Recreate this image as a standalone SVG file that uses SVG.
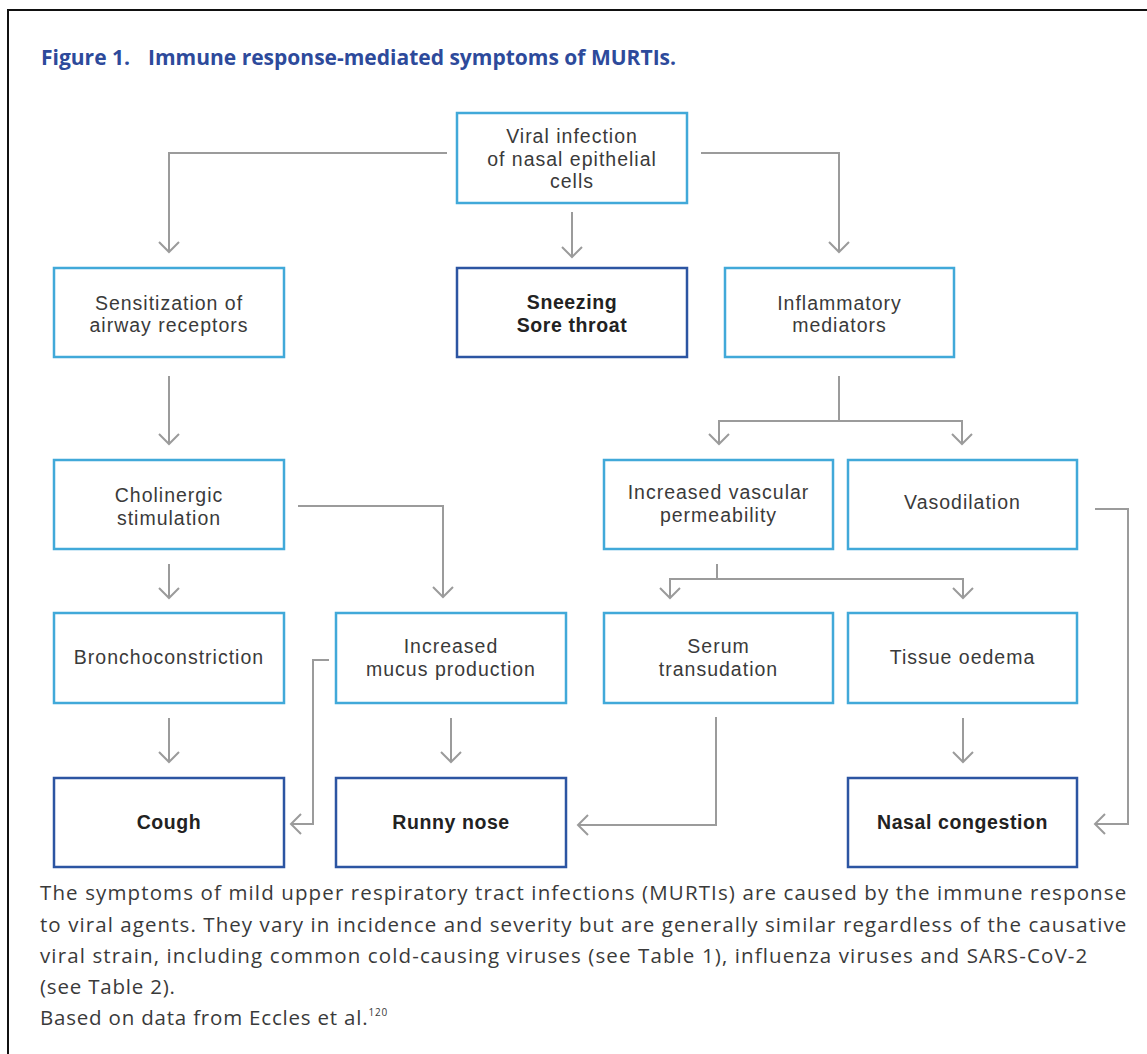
<svg xmlns="http://www.w3.org/2000/svg" width="1147" height="1054" viewBox="0 0 1147 1054">
<defs>
<style>
.bl{fill:#fff;stroke:#41a9d9;stroke-width:2.5}
.bd{fill:#fff;stroke:#2c55a2;stroke-width:2.5}
.t{font-family:"Liberation Sans",Arial,sans-serif;font-size:19.5px;letter-spacing:1px;fill:#3a3a3a;text-anchor:middle}
.tb{font-family:"Liberation Sans",Arial,sans-serif;font-size:19.5px;letter-spacing:0.6px;font-weight:700;fill:#222;text-anchor:middle}
.c{fill:none;stroke:#9b9b9b;stroke-width:2}
.a{marker-end:url(#ah)}
.cap{font-family:"Open Sans","Liberation Sans",sans-serif;font-size:20.5px;letter-spacing:0.8px;fill:#3a3a3a}
.ttl{font-family:"Open Sans","Liberation Sans",sans-serif;font-size:21px;font-weight:700;fill:#2d4a9b}
</style>
<marker id="ah" markerUnits="userSpaceOnUse" markerWidth="26" markerHeight="26" viewBox="-13 -13 26 26" refX="0" refY="0" orient="auto">
<path d="M-10,-10 L0,0 L-10,10" fill="none" stroke="#9b9b9b" stroke-width="2"/>
</marker>
</defs>
<rect x="0" y="0" width="1147" height="1054" fill="#fff"/>
<rect x="8" y="10" width="1160" height="1070" fill="none" stroke="#111" stroke-width="2"/>
<text class="ttl" x="41" y="65">Figure 1.</text>
<text class="ttl" x="148" y="65">Immune response-mediated symptoms of MURTIs.</text>

<g id="connectors">
<path class="c a" d="M447,153 H169 V252"/>
<path class="c a" d="M701,153 H839 V252"/>
<path class="c a" d="M572,212 V257"/>
<path class="c a" d="M169,376 V444"/>
<path class="c" d="M839,376 V421"/>
<path class="c a" d="M839,421 H719 V444"/>
<path class="c a" d="M839,421 H962 V444"/>
<path class="c a" d="M169,564 V598"/>
<path class="c a" d="M298,506 H443 V597"/>
<path class="c" d="M717,564 V579"/>
<path class="c a" d="M717,579 H670 V598"/>
<path class="c a" d="M717,579 H963 V598"/>
<path class="c a" d="M169,718 V762"/>
<path class="c a" d="M451,718 V762"/>
<path class="c a" d="M329,660 H313 V824 H291"/>
<path class="c a" d="M716,717 V825 H578"/>
<path class="c a" d="M963,718 V762"/>
<path class="c a" d="M1095,509 H1128 V824 H1095"/>
</g>

<g id="viral"><rect class="bl" x="457" y="113" width="230" height="90"/>
<text class="t" x="572" y="143">Viral infection</text><text class="t" x="572" y="165.5">of nasal epithelial</text><text class="t" x="572" y="188">cells</text></g>
<g id="sneezing"><rect class="bd" x="457" y="268" width="230" height="89"/>
<text class="tb" x="572" y="309">Sneezing</text><text class="tb" x="572" y="332">Sore throat</text></g>
<g id="sensitization"><rect class="bl" x="54" y="268" width="230" height="89"/>
<text class="t" x="169" y="310">Sensitization of</text><text class="t" x="169" y="332">airway receptors</text></g>
<g id="inflammatory"><rect class="bl" x="725" y="268" width="229" height="89"/>
<text class="t" x="839.5" y="310">Inflammatory</text><text class="t" x="839.5" y="332">mediators</text></g>
<g id="cholinergic"><rect class="bl" x="54" y="460" width="230" height="89"/>
<text class="t" x="169" y="502">Cholinergic</text><text class="t" x="169" y="525">stimulation</text></g>
<g id="vascular"><rect class="bl" x="604" y="460" width="229" height="89"/>
<text class="t" x="718.5" y="499">Increased vascular</text><text class="t" x="718.5" y="522">permeability</text></g>
<g id="vasodilation"><rect class="bl" x="848" y="460" width="229" height="89"/>
<text class="t" x="962.5" y="509">Vasodilation</text></g>
<g id="bronchoconstriction"><rect class="bl" x="54" y="613" width="230" height="90"/>
<text class="t" x="169" y="664">Bronchoconstriction</text></g>
<g id="mucus"><rect class="bl" x="336" y="613" width="230" height="90"/>
<text class="t" x="451" y="653">Increased</text><text class="t" x="451" y="676">mucus production</text></g>
<g id="serum"><rect class="bl" x="604" y="613" width="229" height="90"/>
<text class="t" x="718.5" y="653">Serum</text><text class="t" x="718.5" y="676">transudation</text></g>
<g id="tissue"><rect class="bl" x="848" y="613" width="229" height="90"/>
<text class="t" x="962.5" y="664">Tissue oedema</text></g>
<g id="cough"><rect class="bd" x="54" y="778" width="230" height="89"/>
<text class="tb" x="169" y="829">Cough</text></g>
<g id="runny"><rect class="bd" x="336" y="778" width="230" height="89"/>
<text class="tb" x="451" y="829">Runny nose</text></g>
<g id="nasal"><rect class="bd" x="848" y="778" width="229" height="89"/>
<text class="tb" x="962.5" y="829">Nasal congestion</text></g>

<g id="caption">
<text class="cap" x="40" y="900" textLength="1087" lengthAdjust="spacing">The symptoms of mild upper respiratory tract infections (MURTIs) are caused by the immune response</text>
<text class="cap" x="40" y="932" textLength="1087" lengthAdjust="spacing">to viral agents. They vary in incidence and severity but are generally similar regardless of the causative</text>
<text class="cap" x="40" y="963" textLength="1048" lengthAdjust="spacing">viral strain, including common cold-causing viruses (see Table 1), influenza viruses and SARS-CoV-2</text>
<text class="cap" x="40" y="994">(see Table 2).</text>
<text class="cap" x="40" y="1025">Based on data from Eccles et al.<tspan font-size="10" dy="-9">120</tspan></text>
</g>
</svg>
